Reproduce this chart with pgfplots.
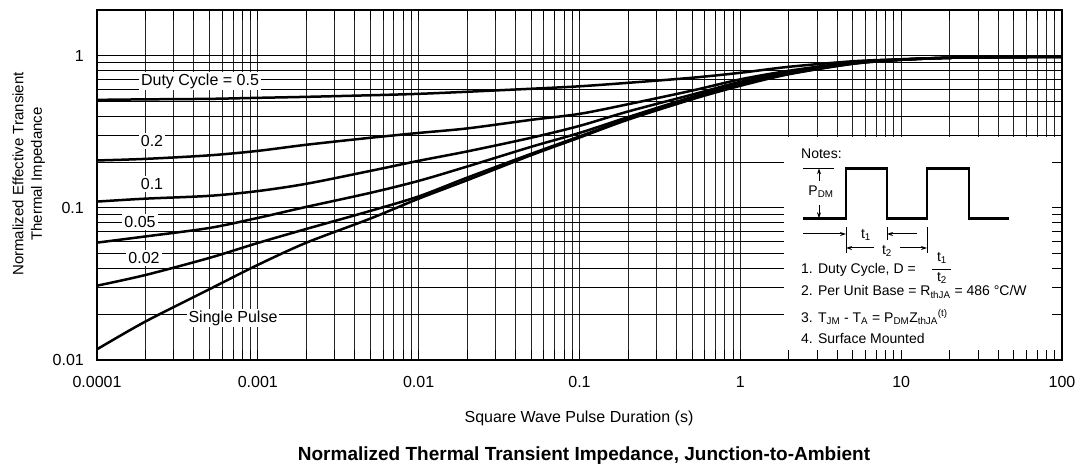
\documentclass[border=0pt]{standalone}
\usepackage{fontspec}
\setmainfont{Liberation Sans}
\usepackage{pgfplots}
\pgfplotsset{compat=1.18}
\usetikzlibrary{arrows.meta}
% grid under the plots, ticks over them (white notes box hides grid, keeps ticks)
\pgfplotsset{
  layers/gridunder/.define layer set={axis background,axis grid,main,axis ticks,axis lines,axis tick labels,axis descriptions,axis foreground}{/pgfplots/layers/standard},
  zcurve/.style={black, no markers, line width=2.5pt, smooth},
}
\newcommand{\fs}[1]{\fontsize{#1}{#1}\selectfont}

\begin{document}
\begin{tikzpicture}
\path (0pt,0pt) rectangle (1083pt,473pt);
\begin{axis}[
    set layers=gridunder,
    at={(97pt,113pt)}, anchor=south west,
    scale only axis, width=965pt, height=350pt,
    xmode=log, ymode=log,
    xmin=1e-4, xmax=100, ymin=0.01, ymax=2,
    xtick={1e-4,1e-3,1e-2,0.1,1,10,100},
    xticklabels={0.0001,0.001,0.01,0.1,1,10,100},
    minor xtick={2e-4,3e-4,4e-4,5e-4,6e-4,7e-4,8e-4,9e-4,
                 2e-3,3e-3,4e-3,5e-3,6e-3,7e-3,8e-3,9e-3,
                 0.02,0.03,0.04,0.05,0.06,0.07,0.08,0.09,
                 0.2,0.3,0.4,0.5,0.6,0.7,0.8,0.9,
                 2,3,4,5,6,7,8,9,20,30,40,50,60,70,80,90},
    ytick={0.01,0.1,1},
    yticklabels={0.01,0.1,1},
    minor ytick={0.02,0.03,0.04,0.05,0.06,0.07,0.08,0.09,
                 0.2,0.3,0.4,0.5,0.6,0.7,0.8,0.9},
    grid=both,
    major x grid style={black!85, line width=0.8pt},
    minor x grid style={black!85, line width=0.8pt},
    major y grid style={black, line width=0.8pt},
    minor y grid style={black, line width=0.8pt},
    tick align=inside,
    major tick length=10pt, minor tick length=10pt,
    tick style={black, line width=0.8pt},
    axis line style={black, line width=2pt},
    xticklabel style={font=\fs{16}, inner sep=0pt, anchor=north, yshift=-16pt},
    yticklabel style={font=\fs{16}, inner sep=0pt, anchor=east, xshift=-13pt},
]
% notes area hides the grid
\fill[white] (axis cs:1.876,0.293) rectangle (axis cs:100,0.01);

% Duty cycle 0.5
\addplot[zcurve] coordinates {
 (1e-4,0.513)(2e-4,0.517)(5e-4,0.521)(1e-3,0.529)(2e-3,0.537)(5e-3,0.550)
 (0.01,0.562)(0.02,0.580)(0.05,0.607)(0.1,0.630)(0.2,0.664)(0.5,0.717)
 (1,0.773)(2,0.846)(5,0.920)(10,0.948)(20,0.970)(50,0.980)(100,0.985)};
% 0.2
\addplot[zcurve] coordinates {
 (1e-4,0.205)(2e-4,0.210)(5e-4,0.2215)(1e-3,0.237)(2e-3,0.260)(5e-3,0.289)
 (0.01,0.311)(0.02,0.333)(0.05,0.379)(0.1,0.415)(0.2,0.48)(0.5,0.59)
 (1,0.700)(2,0.797)(5,0.906)(10,0.948)(20,0.970)(50,0.980)(100,0.985)};
% 0.1
\addplot[zcurve] coordinates {
 (1e-4,0.110)(2e-4,0.115)(5e-4,0.120)(1e-3,0.129)(2e-3,0.144)(5e-3,0.175)
 (0.01,0.204)(0.02,0.235)(0.05,0.289)(0.1,0.346)(0.2,0.43)(0.5,0.555)
 (1,0.674)(2,0.779)(5,0.899)(10,0.941)(20,0.970)(50,0.980)(100,0.985)};
% 0.05
\addplot[zcurve] coordinates {
 (1e-4,0.0591)(2e-4,0.0649)(5e-4,0.0738)(1e-3,0.0859)(2e-3,0.1015)(5e-3,0.1255)
 (0.01,0.1505)(0.02,0.187)(0.05,0.252)(0.1,0.311)(0.2,0.395)(0.5,0.535)
 (1,0.654)(2,0.767)(5,0.893)(10,0.941)(20,0.970)(50,0.980)(100,0.985)};
% 0.02
\addplot[zcurve] coordinates {
 (1e-4,0.0308)(2e-4,0.0362)(5e-4,0.0469)(1e-3,0.0588)(2e-3,0.0727)(5e-3,0.0955)
 (0.01,0.119)(0.02,0.158)(0.05,0.2266)(0.1,0.295)(0.2,0.385)(0.5,0.525)
 (1,0.644)(2,0.761)(5,0.886)(10,0.941)(20,0.970)(50,0.980)(100,0.985)};
% single pulse
\addplot[zcurve] coordinates {
 (1e-4,0.01176)(2e-4,0.0179)(5e-4,0.0292)(1e-3,0.0422)(2e-3,0.059)(5e-3,0.085)
 (0.01,0.115)(0.02,0.152)(0.05,0.222)(0.1,0.29)(0.2,0.38)(0.5,0.517)
 (1,0.635)(2,0.756)(5,0.886)(10,0.941)(20,0.970)(50,0.980)(100,0.985)};
\end{axis}

\begin{scope}[x=1pt,y=1pt]
% curve labels
\tikzset{lbl/.style={fill=white, inner sep=2pt, font=\fs{16}}}
\node[lbl] at (200,392) {Duty Cycle = 0.5};
\node[lbl] at (152,332) {0.2};
\node[lbl] at (152,289) {0.1};
\node[lbl] at (140,251) {0.05};
\node[lbl] at (144,215) {0.02};
\node[lbl] at (233,155) {Single Pulse};

% axis titles
\node[font=\fs{16}] at (579,55) {Square Wave Pulse Duration (s)};
\node[font=\bfseries\fs{19}] at (584,17) {Normalized Thermal Transient Impedance, Junction-to-Ambient};
\node[font=\fs{15}, rotate=90] at (18,299) {Normalized Effective Transient};
\node[font=\fs{15}, rotate=90] at (38,299) {Thermal Impedance};

% notes
\tikzset{nt/.style={font=\fs{14}, inner sep=0pt, anchor=west}}
\node[nt] at (801,319) {Notes:};
\draw[line width=2.5pt, line join=miter]
  (803,254.7) -- (846,254.7) -- (846,304.7) -- (887,304.7) -- (887,254.7)
  -- (927,254.7) -- (927,304.7) -- (969,304.7) -- (969,254.7) -- (1009,254.7);
\draw[line width=1pt] (803,304.7) -- (834,304.7);
\draw[line width=1pt, -{Stealth[length=6pt,width=4pt]}] (819,292) -- (819,304.7);
\draw[line width=1pt, -{Stealth[length=6pt,width=4pt]}] (819,268) -- (819,254.7);
\node[font=\fs{14}, fill=white, inner sep=1pt] at (821,281) {P\textsubscript{DM}};
% t1
\draw[line width=1pt] (846,246) -- (846,220);
\draw[line width=1pt, -{Stealth[length=6pt,width=4pt]}] (803,239) -- (846,239);
\draw[line width=1pt] (887,246) -- (887,233);
\draw[line width=1pt, -{Stealth[length=6pt,width=4pt]}] (917,239) -- (887,239);
\node[font=\fs{14}] at (866,238) {t\textsubscript{1}};
% t2
\draw[line width=1pt] (927,246) -- (927,220);
\draw[line width=1pt, -{Stealth[length=6pt,width=4pt]}] (874,225) -- (846,225);
\draw[line width=1pt, -{Stealth[length=6pt,width=4pt]}] (900,225) -- (927,225);
\node[font=\fs{14}] at (887,222) {t\textsubscript{2}};
% text
\node[nt] at (801,203) {1. Duty Cycle, D =};
\node[font=\fs{14}] at (942,215) {t\textsubscript{1}};
\draw[line width=0.8pt] (932,204) -- (951,204);
\node[font=\fs{14}] at (942,195) {t\textsubscript{2}};
\node[nt] at (801,181) {2. Per Unit Base = R\textsubscript{thJA} = 486 °C/W};
\node[nt] at (801,156) {3. T\textsubscript{JM} - T\textsubscript{A} = P\textsubscript{DM}Z\textsubscript{thJA}\textsuperscript{(t)}};
\node[nt] at (801,135) {4. Surface Mounted};
\end{scope}
\end{tikzpicture}
\end{document}
